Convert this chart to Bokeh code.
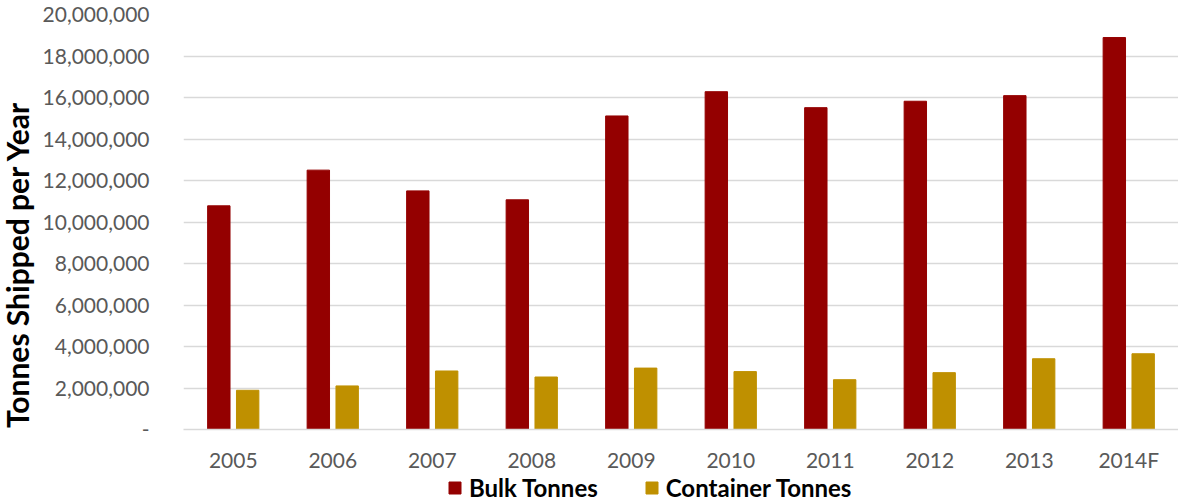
import math
from bokeh.plotting import figure
from bokeh.layouts import column, row
from bokeh.models import (ColumnDataSource, FactorRange, Range1d, Legend, LegendItem,
                          Label, NumeralTickFormatter, FixedTicker)
from bokeh.transform import dodge
from bokeh.embed import file_html
from bokeh.resources import INLINE

# Annual tonnage shipped (2014 is a forecast)
years = ["2005", "2006", "2007", "2008", "2009", "2010", "2011", "2012", "2013", "2014F"]
bulk_tonnes = [10780000, 12500000, 11500000, 11070000, 15110000, 16280000,
               15510000, 15820000, 16090000, 18890000]
container_tonnes = [1890000, 2100000, 2820000, 2530000, 2960000, 2790000,
                    2400000, 2740000, 3410000, 3650000]
y_ticks = [0, 2000000, 4000000, 6000000, 8000000, 10000000,
           12000000, 14000000, 16000000, 18000000, 20000000]
series = [("bulk", "Bulk Tonnes"), ("container", "Container Tonnes")]

BULK = "#940000"
CONTAINER = "#BF9000"
COLORS = {"bulk": BULK, "container": CONTAINER}
OFFSETS = {"bulk": -0.145, "container": 0.145}
GRID = "#D9D9D9"
TEXT = "#595959"
FONT = "Lato"

TITLE_W = 36
MAIN_H = 474


def bare(fig):
    fig.outline_line_color = None
    fig.background_fill_color = "white"
    fig.border_fill_color = "white"
    fig.axis.visible = False
    fig.grid.visible = False
    return fig


src = ColumnDataSource(dict(year=years, bulk=bulk_tonnes, container=container_tonnes))

# --- main bar chart ---
p = figure(width=1178 - TITLE_W, height=MAIN_H, x_range=FactorRange(*years),
           y_range=Range1d(0, 20000000), output_backend="svg",
           toolbar_location=None, min_border_left=183 - TITLE_W, min_border_right=0,
           min_border_top=14, min_border_bottom=44)
p.outline_line_color = None
p.background_fill_color = "white"
p.border_fill_color = "white"

for key, _ in series:
    p.vbar(x=dodge("year", OFFSETS[key], range=p.x_range), top=key, width=0.225,
           source=src, fill_color=COLORS[key], line_color=COLORS[key])

# y axis: comma-grouped values, dash at zero
p.yaxis.ticker = FixedTicker(ticks=y_ticks)
p.yaxis.formatter = NumeralTickFormatter(format="0,0")
p.yaxis.major_label_overrides = {0: "-"}
p.yaxis.axis_line_color = None
p.yaxis.major_tick_line_color = None
p.yaxis.minor_tick_line_color = None
p.yaxis.major_label_standoff = 28
p.yaxis.major_label_text_font = FONT
p.yaxis.major_label_text_font_size = "21px"
p.yaxis.major_label_text_color = TEXT

p.xaxis.axis_line_color = GRID
p.xaxis.axis_line_width = 1.5
p.xaxis.major_tick_line_color = None
p.xaxis.minor_tick_line_color = None
p.xaxis.major_label_standoff = 11
p.xaxis.major_label_text_font = FONT
p.xaxis.major_label_text_font_size = "21px"
p.xaxis.major_label_text_color = TEXT

p.xgrid.grid_line_color = None
p.ygrid.grid_line_color = GRID
p.ygrid.grid_line_width = 1.5

# --- vertical axis title strip ---
t = bare(figure(width=TITLE_W, height=MAIN_H, x_range=Range1d(0, 1), y_range=Range1d(0, 1),
                output_backend="svg", toolbar_location=None,
                min_border_left=0, min_border_right=0, min_border_top=0, min_border_bottom=0))
t.add_layout(Label(x=16, y=165, x_units="screen", y_units="screen",
                   text="Tonnes Shipped per Year", angle=math.pi / 2,
                   text_align="center", text_baseline="middle",
                   text_font=FONT, text_font_style="bold", text_font_size="30px",
                   text_color="black"))

# --- legend strip (hidden series supply the swatches) ---
lg = bare(figure(width=1178, height=502 - MAIN_H, x_range=FactorRange(*years),
                 y_range=Range1d(0, 1), output_backend="svg", toolbar_location=None,
                 min_border_left=0, min_border_right=0, min_border_top=0, min_border_bottom=0))
items = []
for key, name in series:
    r = lg.vbar(x="year", top=key, width=0.225, source=src,
                fill_color=COLORS[key], line_color=COLORS[key], visible=False)
    items.append(LegendItem(label=name, renderers=[r]))
legend = Legend(items=items, orientation="horizontal", location=(447, 0),
                glyph_width=15, glyph_height=15, label_standoff=7, spacing=46,
                padding=0, margin=0, border_line_color=None,
                background_fill_alpha=0, inactive_fill_alpha=0,
                label_text_font=FONT, label_text_font_style="bold",
                label_text_font_size="24px", label_text_color="black")
lg.add_layout(legend)

layout = column(row(t, p), lg)
open("out.html", "w").write(file_html(layout, INLINE))
